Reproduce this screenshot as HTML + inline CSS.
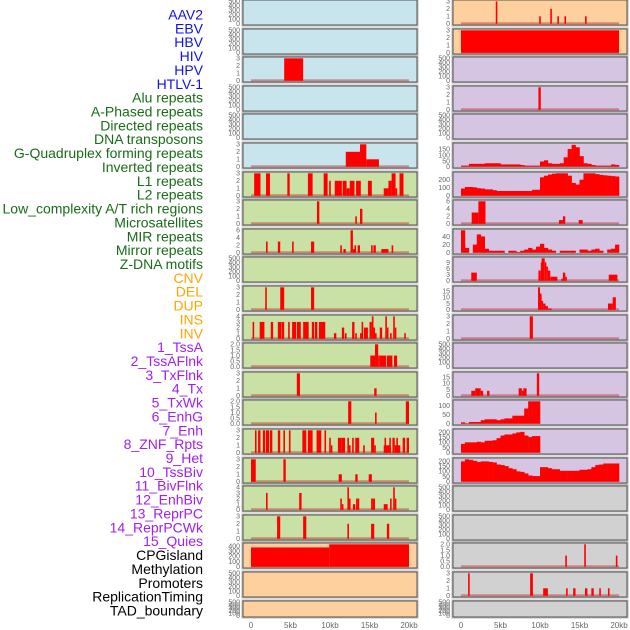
<!DOCTYPE html>
<html><head><meta charset="utf-8">
<style>
html,body{margin:0;padding:0;background:#fff;}
svg{display:block;font-family:"Liberation Sans",sans-serif;}
</style></head>
<body>
<svg id="chart" width="630" height="630" viewBox="0 0 630 630"></svg>
<script>
// ---------- data ----------
const trackLabels = ["AAV2","EBV","HBV","HIV","HPV","HTLV-1","Alu repeats","A-Phased repeats","Directed repeats","DNA transposons","G-Quadruplex forming repeats","Inverted repeats","L1 repeats","L2 repeats","Low_complexity A/T rich regions","Microsatellites","MIR repeats","Mirror repeats","Z-DNA motifs","CNV","DEL","DUP","INS","INV","1_TssA","2_TssAFlnk","3_TxFlnk","4_Tx","5_TxWk","6_EnhG","7_Enh","8_ZNF_Rpts","9_Het","10_TssBiv","11_BivFlnk","12_EnhBiv","13_ReprPC","14_ReprPCWk","15_Quies","CPGisland","Methylation","Promoters","ReplicationTiming","TAD_boundary"];
const labelGroups = [6,13,5,15,5];
const groupColors = ["#1010f0","#1a6b1a","#ffa500","#a020f0","#000000"];
const xTicks = [0,5000,10000,15000,20000];
const xTickLabels = ["0","5kb","10kb","15kb","20kb"];

// bar tracks: [startKb, endKb, value]
const hivBars = [[4.2,6.6,3]];
const gquadLeftBars = [[12.0,13.8,2],[13.8,14.6,3],[14.6,16.2,1]];
const l1Bars = [[0.4,1.2,3],[1.9,2.4,3],[4.6,4.9,3],[7.2,7.8,3],[9.2,9.7,3],[9.9,10.1,2],[10.6,11.5,2],[11.6,12.1,2],[12.1,12.5,1],[12.5,13.1,2],[13.3,13.9,2],[14.8,15.3,2],[16.8,17.4,1],[17.4,17.8,2],[17.8,18.3,3],[18.3,18.5,1],[18.8,19.3,3]];
const l2Bars = [[8.35,8.65,3],[13.2,13.4,1],[13.8,14.1,2]];
const lowcBars = [[1.9,2.1,3],[3.4,3.7,3],[5.2,5.4,3],[7.6,8.0,3],[11.3,11.5,2],[11.7,12.0,1],[12.6,12.9,6],[12.9,13.0,1],[13.1,13.3,2],[13.5,13.8,2],[15.2,15.4,2],[15.5,15.8,2],[16.5,17.4,1],[17.8,18.0,2]];
const mirBars = [[1.8,2.0,3],[3.7,4.2,3],[7.6,8.0,3]];
const mirrorBars = [[0.2,0.4,3],[1.1,1.7,3],[2.5,2.8,3],[3.4,3.8,3],[3.85,4.2,3],[4.7,4.9,3],[5.2,5.7,3],[5.8,6.3,3],[6.6,7.3,3],[7.7,8.0,3],[8.1,8.4,3],[8.6,9.4,3],[10.5,10.8,1],[11.5,11.8,2],[11.9,12.1,1],[12.8,13.1,3],[13.2,13.4,1],[13.8,14.1,1],[14.0,14.2,3],[14.3,14.8,2],[15.0,15.3,3],[15.3,15.5,4],[15.5,15.7,2],[15.7,15.9,1],[16.3,16.6,2],[17.0,17.2,4],[17.2,17.4,2],[18.0,18.2,4],[17.6,17.8,1],[18.2,18.4,2],[19.4,19.6,1]];
const tssABars = [[15.1,15.7,1],[15.7,16.1,2],[16.1,16.3,1],[16.3,17.1,1],[17.2,17.9,1],[18.1,18.5,1]];
const tssAFlnkBars = [[5.8,6.2,3],[15.6,15.9,1]];
const txFlnkBars = [[12.3,12.7,2],[15.7,15.9,1],[19.6,20.0,2]];
const txBars = [[0.5,0.7,3],[0.9,1.2,3],[1.5,1.8,3],[1.9,2.3,3],[2.4,2.7,3],[3.4,3.7,3],[4.1,4.3,3],[4.8,5.0,3],[6.5,7.0,3],[7.2,7.8,3],[8.3,8.9,3],[9.3,9.5,3],[9.9,10.1,2],[10.1,10.2,1],[11.0,11.5,2],[11.5,11.9,2],[12.2,12.4,2],[12.4,12.5,1],[12.8,13.0,2],[13.2,13.7,2],[14.2,14.4,1],[15.2,15.6,2],[15.6,15.8,1],[16.8,17.7,1],[16.9,17.1,2],[17.5,17.7,2],[17.9,18.2,2],[18.2,18.9,1],[18.4,18.6,2],[19.2,19.5,2],[19.7,20.0,2]];
const txWkBars = [[0.0,0.6,3],[4.1,4.4,3],[11.1,11.5,1],[13.2,13.5,1],[14.9,15.3,1]];
const enhGBars = [[1.9,2.1,3],[6.1,6.4,3],[11.3,11.5,2],[11.5,11.7,1],[12.2,12.4,4],[12.4,12.6,2],[12.9,13.2,1],[13.3,13.5,2],[13.5,13.7,2],[15.2,15.4,2],[15.4,15.7,2],[16.8,17.3,1],[17.6,17.8,2],[18.0,18.2,4],[18.2,18.4,2]];
const enhBars = [[3.3,3.7,3],[6.6,7.0,3],[12.2,12.4,2],[15.2,15.6,2],[17.2,17.5,2]];
const cnvBars = [[0.0,9.9,370],[9.9,20.0,440]];
const inv0Bars = [[4.4,4.6,3],[9.9,10.1,1],[11.3,11.5,2],[12.2,12.4,1],[13.1,13.3,1],[15.7,15.9,1]];
const fullBars = [[0.0,20.0,3]];
const alu2Bars = [[9.8,10.1,3]];
const lowc2Bars = [[1.35,2.2,3],[2.2,3.1,6],[12.4,12.9,1],[12.9,13.2,2],[14.9,15.4,1]];
const zdnaBars = [[1.3,2.0,4],[9.8,10.1,5],[10.1,10.2,9],[10.2,10.6,11],[10.6,10.8,9],[10.8,11.0,7],[11.0,11.3,5],[11.3,12.2,2],[12.7,13.0,1],[12.9,13.2,4],[13.2,13.4,2],[18.7,19.8,3]];
const cnv2Bars = [[9.75,10.0,18],[10.0,10.2,13],[10.2,10.4,7],[10.4,10.7,5],[10.7,11.0,3],[11.0,11.5,1],[18.6,19.2,5],[19.2,19.6,10]];
const del2Bars = [[8.7,9.1,3]];
const ins2Bars = [[1.3,1.8,4],[1.8,2.5,6],[2.5,2.8,4],[3.3,3.6,4],[7.3,7.7,6],[7.7,7.9,4],[7.9,8.3,6],[9.6,9.9,18]];
const cpgBars = [[13.2,13.4,1],[15.6,15.8,2],[19.6,19.8,1]];
const methBars = [[0.9,1.1,3],[8.75,9.1,3],[10.4,11.0,1],[13.3,13.5,1],[14.2,14.5,1],[15.7,16.0,1],[16.5,16.8,1],[17.5,17.7,1],[18.6,18.8,1]];

// binned tracks: 0.5 kb bins
const gquadBins = [10,10,25,25,25,25,30,30,30,30,20,20,20,20,20,15,10,10,10,10,45,55,30,25,25,30,80,150,185,165,90,30,25,15,10,10,10,10,20,15];
const l1Bins = [90,110,110,105,95,90,80,80,70,60,60,60,60,60,60,60,60,60,75,75,230,250,265,275,280,280,280,250,160,140,200,280,280,280,270,260,255,250,245,240];
const mirBins = [55,12,0,20,45,40,10,5,5,5,5,0,5,5,2,5,8,12,8,15,22,12,8,5,0,5,5,5,5,0,8,8,5,8,10,5,0,8,10,20];
const txWkBins = [8,3,10,10,10,20,25,25,25,20,25,30,30,45,45,45,85,125,125,125];
const enhGBins = [85,100,100,100,105,100,115,115,120,140,165,175,175,185,195,200,165,150,160,160];
const enhBins = [195,215,210,200,190,195,195,190,185,165,160,150,130,120,100,95,80,60,55,55,140,140,130,120,120,105,105,105,105,105,115,115,120,140,160,165,175,175,175,175];

// tick sets
const ticksEmpty = [0,100,200,300,400,500];
const ticks3 = [0,1,2,3];
const ticks4 = [0,1,2,3,4];
const ticks6 = [0,2,4,6];
const ticks2 = [0,0.5,1,1.5,2];
const ticksCnv = [0,100,200,300,400];

// panel specs: [column,row,bg,kind,data,ymax,ticks,tickDecimals]
const BLUE="#c8e4ec",GREEN="#c9e1a4",ORANGE="#fed09e",PURPLE="#d6c5e2",GREY="#d1d1d1";
const panels = [
 [0,0,BLUE,"empty",null,500,ticksEmpty,0],[0,1,BLUE,"empty",null,500,ticksEmpty,0],
 [0,2,BLUE,"bars",hivBars,3,ticks3,0],[0,3,BLUE,"empty",null,500,ticksEmpty,0],
 [0,4,BLUE,"empty",null,500,ticksEmpty,0],[0,5,BLUE,"bars",gquadLeftBars,3,ticks3,0],
 [0,6,GREEN,"bars",l1Bars,3,ticks3,0],[0,7,GREEN,"bars",l2Bars,3,ticks3,0],
 [0,8,GREEN,"bars",lowcBars,6,ticks6,0],[0,9,GREEN,"empty",null,500,ticksEmpty,0],
 [0,10,GREEN,"bars",mirBars,3,ticks3,0],[0,11,GREEN,"bars",mirrorBars,4,ticks4,0],
 [0,12,GREEN,"bars",tssABars,2,ticks2,1],[0,13,GREEN,"bars",tssAFlnkBars,3,ticks3,0],
 [0,14,GREEN,"bars",txFlnkBars,2,ticks2,1],[0,15,GREEN,"bars",txBars,3,ticks3,0],
 [0,16,GREEN,"bars",txWkBars,3,ticks3,0],[0,17,GREEN,"bars",enhGBars,4,ticks4,0],
 [0,18,GREEN,"bars",enhBars,3,ticks3,0],[0,19,ORANGE,"bars",cnvBars,430,ticksCnv,0],
 [0,20,ORANGE,"empty",null,500,ticksEmpty,0],[0,21,ORANGE,"empty",null,500,ticksEmpty,0],
 [1,0,ORANGE,"bars",inv0Bars,3,ticks3,0],[1,1,ORANGE,"bars",fullBars,3,ticks3,0],
 [1,2,PURPLE,"empty",null,500,ticksEmpty,0],[1,3,PURPLE,"bars",alu2Bars,3,ticks3,0],
 [1,4,PURPLE,"empty",null,500,ticksEmpty,0],[1,5,PURPLE,"bins",gquadBins,190,[0,50,100,150],0],
 [1,6,PURPLE,"bins",l1Bins,280,[0,100,200],0],[1,7,PURPLE,"bars",lowc2Bars,6,ticks6,0],
 [1,8,PURPLE,"bins",mirBins,55,[0,20,40],0],[1,9,PURPLE,"bars",zdnaBars,11,[0,3,6,9],0],
 [1,10,PURPLE,"bars",cnv2Bars,18,[0,5,10,15],0],[1,11,PURPLE,"bars",del2Bars,3,ticks3,0],
 [1,12,PURPLE,"empty",null,500,ticksEmpty,0],[1,13,PURPLE,"bars",ins2Bars,18,[0,5,10,15],0],
 [1,14,PURPLE,"bins",txWkBins,125,[0,50,100],0],[1,15,PURPLE,"bins",enhGBins,215,[0,50,100,150,200],0],
 [1,16,PURPLE,"bins",enhBins,215,[0,50,100,150,200],0],[1,17,GREY,"empty",null,500,ticksEmpty,0],
 [1,18,GREY,"empty",null,500,ticksEmpty,0],[1,19,GREY,"bars",cpgBars,2,ticks2,1],
 [1,20,GREY,"bars",methBars,3,ticks3,0],[1,21,GREY,"empty",null,500,ticksEmpty,0]
];

// ---------- drawing ----------
const NS="http://www.w3.org/2000/svg";
const svg=document.getElementById("chart");
function mk(tag,attrs,parent){const e=document.createElementNS(NS,tag);for(const k in attrs)e.setAttribute(k,attrs[k]);(parent||svg).appendChild(e);return e;}
const colX=[243,453], PW=174, PITCH=28.6;
function xScale(col,kb){return colX[col]+8+kb*7.9;}

// labels
let li=0;
labelGroups.forEach((n,g)=>{for(let k=0;k<n;k++){
  const t=mk("text",{x:203,y:(19.5+li*13.86).toFixed(1),"text-anchor":"end","font-size":"14",fill:groupColors[g]});
  t.textContent=trackLabels[li];
  
  
  li++;}});

panels.forEach(p=>{
  const [col,row,bg,kind,data,ymax,ticks,dec]=p;
  const x0=colX[col], y0=Math.round(row*PITCH), h=(row===21?16:25);
  const g=mk("g",{});
  
  
  mk("rect",{x:x0-1,y:y0-1,width:PW+2,height:h+2,fill:"none",stroke:"#bbb","stroke-width":1},g);
  mk("rect",{x:x0,y:y0,width:PW,height:h,fill:bg,stroke:"#555","stroke-width":1},g);
  const yb=y0+h-1.2, span=h-2.5;
  const yS=v=>yb-Math.min(v,ymax)/ymax*span;
  ticks.forEach(t=>{
    const tx=mk("text",{x:x0-3,y:(yS(t)+2.4).toFixed(1),"text-anchor":"end","font-size":"7",fill:"#666"},g);
    tx.textContent=t.toFixed(dec);
    
    
  });
  if(kind==="bars"){
    mk("rect",{x:xScale(col,0),y:yb-1.5,width:xScale(col,20)-xScale(col,0),height:2,fill:"rgba(190,30,30,0.45)"},g);
    data.forEach(b=>{
      const xa=xScale(col,b[0]), xb=xScale(col,b[1]);
      const r=mk("rect",{x:xa.toFixed(2),y:yS(b[2]).toFixed(2),width:Math.max(xb-xa,1.6).toFixed(2),height:(yb-yS(b[2])).toFixed(2),fill:"#ff0000"},g);
      
      
    });
  } else if(kind==="bins"){
    data.forEach((v,i)=>{
      const xa=xScale(col,i*0.5), xb=xScale(col,i*0.5+0.5);
      const r=mk("rect",{x:xa.toFixed(2),y:yS(v).toFixed(2),width:(xb-xa+0.3).toFixed(2),height:(yb-yS(v)).toFixed(2),fill:"#ff0000"},g);
      
      
    });
  }
});

// x axes
[0,1].forEach(col=>{
  xTicks.forEach((t,i)=>{
    const tx=mk("text",{x:xScale(col,t/1000),y:628,"text-anchor":"middle","font-size":"8",fill:"#666"});
    tx.textContent=xTickLabels[i];
    
    
  });
});
</script>
</body></html>
